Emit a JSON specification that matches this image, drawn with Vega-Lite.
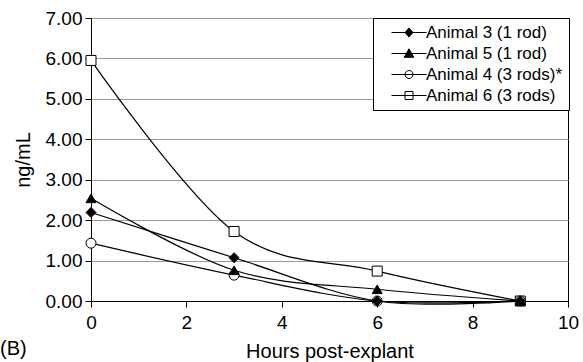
{
  "$schema": "https://vega.github.io/schema/vega-lite/v6.json",
  "width": 477,
  "height": 283,
  "autosize": {"type": "none"},
  "padding": {"left": 91, "top": 18, "right": 15, "bottom": 61},
  "background": "white",
  "config": {
    "font": "Liberation Sans",
    "view": {"stroke": "black", "strokeWidth": 1},
    "axis": {
      "domainColor": "black",
      "tickColor": "black",
      "labelColor": "black",
      "titleColor": "black",
      "labelFont": "Liberation Sans",
      "titleFont": "Liberation Sans",
      "titleFontWeight": "normal",
      "labelFontSize": 19,
      "titleFontSize": 20,
      "tickSize": 6,
      "domainWidth": 1,
      "tickWidth": 1,
      "labelFlush": false
    }
  },
  "title": {
    "text": "(B)",
    "orient": "bottom",
    "anchor": "start",
    "frame": "group",
    "dx": -91,
    "offset": -22,
    "fontSize": 20,
    "fontWeight": "normal",
    "color": "black",
    "font": "Liberation Sans"
  },
  "data": {
    "values": [
      {"animal": "Animal 6 (3 rods)", "hours": 0, "ng": 5.95},
      {"animal": "Animal 6 (3 rods)", "hours": 3, "ng": 1.72},
      {"animal": "Animal 6 (3 rods)", "hours": 6, "ng": 0.74},
      {"animal": "Animal 6 (3 rods)", "hours": 9, "ng": 0},
      {"animal": "Animal 4 (3 rods)*", "hours": 0, "ng": 1.43},
      {"animal": "Animal 4 (3 rods)*", "hours": 3, "ng": 0.64},
      {"animal": "Animal 4 (3 rods)*", "hours": 6, "ng": 0},
      {"animal": "Animal 4 (3 rods)*", "hours": 9, "ng": 0},
      {"animal": "Animal 5 (1 rod)", "hours": 0, "ng": 2.54},
      {"animal": "Animal 5 (1 rod)", "hours": 3, "ng": 0.76},
      {"animal": "Animal 5 (1 rod)", "hours": 6, "ng": 0.29},
      {"animal": "Animal 5 (1 rod)", "hours": 9, "ng": 0},
      {"animal": "Animal 3 (1 rod)", "hours": 0, "ng": 2.19},
      {"animal": "Animal 3 (1 rod)", "hours": 3, "ng": 1.07},
      {"animal": "Animal 3 (1 rod)", "hours": 6, "ng": 0},
      {"animal": "Animal 3 (1 rod)", "hours": 9, "ng": 0}
    ]
  },
  "encoding": {
    "x": {
      "field": "hours",
      "type": "quantitative",
      "scale": {"domain": [0, 10]},
      "axis": {"values": [0, 2, 4, 6, 8, 10], "grid": false, "title": "Hours post-explant", "labelPadding": 6, "titlePadding": 9}
    },
    "y": {
      "field": "ng",
      "type": "quantitative",
      "scale": {"domain": [0, 7]},
      "axis": {"values": [0, 1, 2, 3, 4, 5, 6, 7], "format": ".2f", "title": "ng/mL", "grid": true, "gridColor": "#999999", "labelPadding": 3, "titlePadding": 12}
    }
  },
  "layer": [
    {
      "mark": {"type": "line", "interpolate": "cardinal", "tension": 0, "color": "black", "strokeWidth": 1.2},
      "encoding": {"detail": {"field": "animal"}}
    },
    {
      "mark": {"type": "point", "stroke": "black", "strokeWidth": 1, "size": 100, "opacity": 1},
      "encoding": {
        "fill": {
          "field": "animal",
          "type": "nominal",
          "scale": {
            "domain": ["Animal 3 (1 rod)", "Animal 5 (1 rod)", "Animal 4 (3 rods)*", "Animal 6 (3 rods)"],
            "range": ["black", "black", "white", "white"]
          },
          "legend": null
        },
        "shape": {
          "field": "animal",
          "type": "nominal",
          "scale": {
            "domain": ["Animal 3 (1 rod)", "Animal 5 (1 rod)", "Animal 4 (3 rods)*", "Animal 6 (3 rods)"],
            "range": ["diamond", "triangle-up", "circle", "square"]
          },
          "legend": null
        }
      }
    },
    {
      "transform": [{"filter": "false"}],
      "mark": {"type": "point", "strokeWidth": 1, "opacity": 1},
      "encoding": {
        "fill": {
          "field": "animal",
          "type": "nominal",
          "scale": {
            "domain": ["Animal 3 (1 rod)", "Animal 5 (1 rod)", "Animal 4 (3 rods)*", "Animal 6 (3 rods)"],
            "range": ["black", "black", "white", "white"]
          },
          "legend": {"orient": "none", "title": null}
        },
        "stroke": {
          "field": "animal",
          "type": "nominal",
          "scale": {
            "domain": ["Animal 3 (1 rod)", "Animal 5 (1 rod)", "Animal 4 (3 rods)*", "Animal 6 (3 rods)"],
            "range": ["black", "black", "black", "black"]
          },
          "legend": {"orient": "none", "title": null}
        },
        "shape": {
          "field": "animal",
          "type": "nominal",
          "scale": {
            "domain": ["Animal 3 (1 rod)", "Animal 5 (1 rod)", "Animal 4 (3 rods)*", "Animal 6 (3 rods)"],
            "range": [
              "M-3.5,0H3.5M0,-0.9L0.8,0L0,0.9L-0.8,0Z",
              "M-3.5,0H3.5M0,-0.95L0.95,0.75L-0.95,0.75Z",
              "M-3.5,0H3.5M0.8,0A0.8,0.8,0,1,1,-0.8,0A0.8,0.8,0,1,1,0.8,0Z",
              "M-3.5,0H3.5M-0.8,-0.8H0.8V0.8H-0.8Z"
            ]
          },
          "legend": {
            "orient": "none",
            "legendX": 282,
            "legendY": 0,
            "title": null,
            "fillColor": "white",
            "strokeColor": "black",
            "padding": 6,
            "symbolOffset": 21.5,
            "labelOffset": 8.5,
            "symbolSize": 100,
            "symbolStrokeWidth": 1,
            "labelFontSize": 17,
            "labelFont": "Liberation Sans",
            "labelColor": "black",
            "rowPadding": 3,
            "labelLimit": 300
          }
        }
      }
    }
  ],
  "resolve": {"scale": {"shape": "independent", "fill": "independent", "stroke": "independent"}}
}
